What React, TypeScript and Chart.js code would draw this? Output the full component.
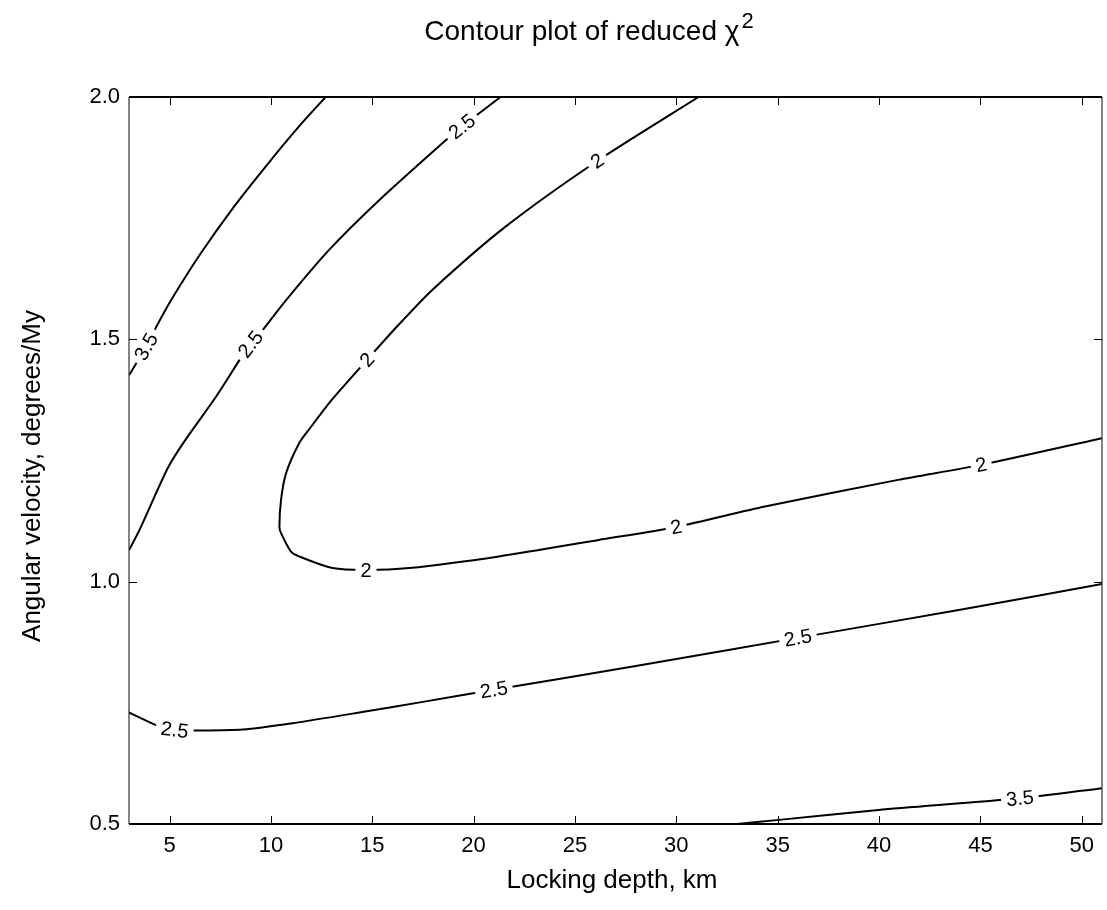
import React, { useEffect, useRef } from "react";
import { Chart, registerables } from "chart.js";

Chart.register(...registerables);

const FONT = '"Liberation Sans", Arial, Helvetica, sans-serif';

const TITLE = "Contour plot of reduced χ";
const TITLE_SUP = "2";
const X_TITLE = "Locking depth, km";
const Y_TITLE = "Angular velocity, degrees/My";

// axis ranges and ticks
const xRange = [3, 51];
const yRange = [0.5, 2.0];
const xTicks = [5, 10, 15, 20, 25, 30, 35, 40, 45, 50];
const yTicks = [0.5, 1.0, 1.5, 2.0];

// contour levels, one per traced line
const contourLevels = [3.5, 2.5, 2, 2.5, 3.5];

// level 3.5, upper-left corner
const c35UpperX = [3.0, 3.85, 4.26, 5.08, 6.5, 8.2, 10.0, 11.4, 12.7];
const c35UpperY = [1.426, 1.485, 1.519, 1.581, 1.675, 1.775, 1.87, 1.94, 2.0];
const c35UpperLabels = [1];

// level 2.5, upper branch
const c25UpperX = [3.0, 3.52, 4.92, 5.74, 7.3, 8.45, 9.0, 9.59, 10.75, 12.86, 15.34, 18.63, 19.43, 20.26, 21.33];
const c25UpperY = [1.065, 1.107, 1.235, 1.29, 1.382, 1.457, 1.49, 1.519, 1.581, 1.684, 1.787, 1.911, 1.939, 1.966, 2.0];
const c25UpperLabels = [6, 12];

// level 2, open minimum valley
const c2X = [31.1, 26.1, 21.56, 17.96, 16.3, 14.75, 13.0, 11.9, 11.4, 10.75, 10.5, 10.42, 10.5, 10.99, 11.4, 13.04, 14.69, 16.82, 21.25, 26.17, 29.99, 34.37, 40.94, 45.04, 51.0];
const c2Y = [2.0, 1.868, 1.732, 1.602, 1.53, 1.458, 1.375, 1.315, 1.286, 1.224, 1.169, 1.113, 1.1, 1.062, 1.052, 1.028, 1.024, 1.028, 1.052, 1.086, 1.113, 1.155, 1.21, 1.241, 1.296];
const c2Labels = [1, 5, 16, 20, 23];

// level 2.5, lower branch
const c25LowerX = [3.0, 4.34, 5.25, 6.31, 8.61, 11.07, 14.36, 17.5, 21.0, 28.0, 36.0, 44.0, 51.0];
const c25LowerY = [0.73, 0.704, 0.694, 0.693, 0.695, 0.708, 0.73, 0.752, 0.777, 0.826, 0.884, 0.942, 0.995];
const c25LowerLabels = [2, 8, 10];

// level 3.5, lower-right corner
const c35LowerX = [33.0, 34.95, 39.97, 46.95, 51.0];
const c35LowerY = [0.5, 0.508, 0.529, 0.553, 0.574];
const c35LowerLabels = [3];

const contourXs = [c35UpperX, c25UpperX, c2X, c25LowerX, c35LowerX];
const contourYs = [c35UpperY, c25UpperY, c2Y, c25LowerY, c35LowerY];
const contourLabelIdx = [c35UpperLabels, c25UpperLabels, c2Labels, c25LowerLabels, c35LowerLabels];

const frameAndText = {
  id: "frameAndText",
  afterDraw(chart: any) {
    const { ctx, chartArea: a, scales } = chart;
    const sx = scales.x;
    const sy = scales.y;
    ctx.save();
    // box
    ctx.strokeStyle = "#000";
    ctx.lineWidth = 2;
    ctx.beginPath();
    ctx.moveTo(a.left, a.top);
    ctx.lineTo(a.right, a.top);
    ctx.moveTo(a.left, a.bottom);
    ctx.lineTo(a.right, a.bottom);
    ctx.stroke();
    ctx.lineWidth = 1.2;
    ctx.strokeStyle = "#333";
    ctx.beginPath();
    ctx.moveTo(a.left, a.top);
    ctx.lineTo(a.left, a.bottom);
    ctx.moveTo(a.right, a.top);
    ctx.lineTo(a.right, a.bottom);
    ctx.stroke();
    // inward tick marks on all four sides
    ctx.strokeStyle = "#000";
    ctx.lineWidth = 1;
    ctx.beginPath();
    const tl = 8;
    xTicks.forEach((v) => {
      const px = Math.round(sx.getPixelForValue(v)) + 0.5;
      ctx.moveTo(px, a.bottom);
      ctx.lineTo(px, a.bottom - tl);
      ctx.moveTo(px, a.top);
      ctx.lineTo(px, a.top + tl);
    });
    yTicks.forEach((v) => {
      const py = Math.round(sy.getPixelForValue(v)) + 0.5;
      ctx.moveTo(a.left, py);
      ctx.lineTo(a.left + tl, py);
      ctx.moveTo(a.right, py);
      ctx.lineTo(a.right - tl, py);
    });
    ctx.stroke();

    // chart title with raised exponent
    ctx.fillStyle = "#000";
    ctx.textBaseline = "alphabetic";
    ctx.textAlign = "left";
    ctx.font = `28px ${FONT}`;
    const tw = ctx.measureText(TITLE).width;
    ctx.font = `22px ${FONT}`;
    const sw = ctx.measureText(TITLE_SUP).width;
    const tx = 589 - (tw + sw + 2) / 2;
    ctx.font = `28px ${FONT}`;
    ctx.fillText(TITLE, tx, 40);
    ctx.font = `22px ${FONT}`;
    ctx.fillText(TITLE_SUP, tx + tw + 2, 28);

    // axis titles
    ctx.textAlign = "center";
    ctx.font = `26px ${FONT}`;
    ctx.fillText(X_TITLE, 612, 888);
    ctx.translate(40, 476);
    ctx.rotate(-Math.PI / 2);
    ctx.fillText(Y_TITLE, 0, 0);
    ctx.restore();
  },
};

const contourLabels = {
  id: "contourLabels",
  afterDatasetsDraw(chart: any) {
    const { ctx, scales } = chart;
    const sx = scales.x;
    const sy = scales.y;
    ctx.font = `20px ${FONT}`;
    contourXs.forEach((xs, c) => {
      const text = String(contourLevels[c]);
      contourLabelIdx[c].forEach((k) => {
        const px = sx.getPixelForValue(xs[k]);
        const py = sy.getPixelForValue(contourYs[c][k]);
        const k0 = Math.max(0, k - 1);
        const k1 = Math.min(xs.length - 1, k + 1);
        let ang = Math.atan2(
          sy.getPixelForValue(contourYs[c][k1]) - sy.getPixelForValue(contourYs[c][k0]),
          sx.getPixelForValue(xs[k1]) - sx.getPixelForValue(xs[k0])
        );
        if (ang > Math.PI / 2) ang -= Math.PI;
        if (ang < -Math.PI / 2) ang += Math.PI;
        ctx.save();
        ctx.translate(px, py);
        ctx.rotate(ang);
        const w = ctx.measureText(text).width;
        ctx.fillStyle = "#fff";
        ctx.fillRect(-w / 2 - 5, -9, w + 10, 18);
        ctx.fillStyle = "#000";
        ctx.textAlign = "center";
        ctx.textBaseline = "middle";
        ctx.fillText(text, 0, 1);
        ctx.restore();
      });
    });
  },
};

export default function App() {
  const ref = useRef<HTMLCanvasElement | null>(null);

  useEffect(() => {
    if (!ref.current) return;
    const datasets = contourXs.map((xs, c) => ({
      label: String(contourLevels[c]),
      data: xs.map((x, i) => ({ x, y: contourYs[c][i] })),
      showLine: true,
      borderColor: "#000",
      borderWidth: 2,
      pointRadius: 0,
      tension: 0.25,
      fill: false,
    }));
    const chart = new Chart(ref.current, {
      type: "scatter",
      data: { datasets },
      options: {
        animation: false,
        responsive: false,
        devicePixelRatio: 1,
        layout: { padding: { left: 0, right: 5, top: 97, bottom: 0 } },
        plugins: { legend: { display: false }, tooltip: { enabled: false }, title: { display: false } },
        scales: {
          x: {
            type: "linear",
            min: xRange[0],
            max: xRange[1],
            grid: { display: false, drawTicks: false },
            border: { display: false },
            afterBuildTicks: (s: any) => {
              s.ticks = xTicks.map((value) => ({ value }));
            },
            afterFit: (s: any) => {
              s.height = 86;
            },
            ticks: {
              color: "#000",
              font: { family: FONT, size: 22 },
              padding: 9,
              maxRotation: 0,
              autoSkip: false,
              callback: (v: any) => String(v),
            },
          },
          y: {
            type: "linear",
            min: yRange[0],
            max: yRange[1],
            grid: { display: false, drawTicks: false },
            border: { display: false },
            afterBuildTicks: (s: any) => {
              s.ticks = yTicks.map((value) => ({ value }));
            },
            afterFit: (s: any) => {
              s.width = 129;
            },
            ticks: {
              color: "#000",
              font: { family: FONT, size: 22 },
              padding: 9,
              autoSkip: false,
              callback: (v: any) => Number(v).toFixed(1),
            },
          },
        },
      },
      plugins: [contourLabels, frameAndText],
    });
    return () => chart.destroy();
  }, []);

  return (
    <div style={{ position: "fixed", left: 0, top: 0, width: 1107, height: 910, background: "#fff" }}>
      <canvas ref={ref} width={1107} height={910} />
    </div>
  );
}
